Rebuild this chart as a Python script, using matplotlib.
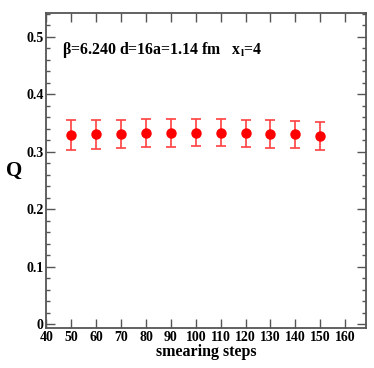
import matplotlib
matplotlib.use("Agg")
import matplotlib.pyplot as plt
from matplotlib.ticker import MultipleLocator

# smearing steps and topological charge Q with errors
steps = [50, 60, 70, 80, 90, 100, 110, 120, 130, 140, 150]
q_vals = [0.329, 0.330, 0.331, 0.332, 0.3325, 0.333, 0.333, 0.332, 0.331, 0.330, 0.328]
q_errs = [0.026, 0.025, 0.0247, 0.0243, 0.0238, 0.0237, 0.0238, 0.0235, 0.0238, 0.024, 0.0243]

x_ticks = list(range(40, 161, 10))
y_ticks = [0, 0.1, 0.2, 0.3, 0.4, 0.5]
y_tick_labels = ["0", "0.1", "0.2", "0.3", "0.4", "0.5"]

plt.rcParams["font.family"] = ["Liberation Serif", "DejaVu Serif"]
plt.rcParams["font.weight"] = "bold"
plt.rcParams["mathtext.fontset"] = "custom"
plt.rcParams["mathtext.rm"] = "Liberation Serif:bold"
plt.rcParams["mathtext.it"] = "Liberation Serif:bold"
plt.rcParams["mathtext.bf"] = "Liberation Serif:bold"

fig = plt.figure(figsize=(3.74, 3.68), dpi=100)
ax = fig.add_axes([0.1243, 0.1087, 0.9778 - 0.1243, 0.9647 - 0.1087])

ax.errorbar(steps, q_vals, yerr=q_errs, fmt="o", color="red", ms=6.5,
			ecolor=(1, 0.25, 0.25), elinewidth=1.2, capsize=3.3, capthick=1.2)

ax.set_xlim(40, 168.3)
ax.set_ylim(-0.0065, 0.541)

ax.set_xticks(x_ticks)
ax.set_xticklabels([str(t) for t in x_ticks])
ax.set_yticks(y_ticks)
ax.set_yticklabels(y_tick_labels)
ax.yaxis.set_minor_locator(MultipleLocator(0.02))

for s in ax.spines.values():
	s.set_color("#555555")
	s.set_linewidth(1.3)
ax.tick_params(which="both", direction="in", top=True, right=True, color="#555555", width=1.0)
ax.tick_params(which="major", length=6.5, labelsize=10, pad=2)
ax.tick_params(which="minor", length=3)
for lab in ax.get_xticklabels() + ax.get_yticklabels():
	lab.set_fontweight("bold")

ax.set_xlabel("smearing steps", fontsize=11.5, fontweight="bold", labelpad=0)
ax.set_ylabel("Q", fontsize=15, fontweight="bold", rotation=0, labelpad=9, va="center")

ax.text(0.05, 0.883, "\u03b2=6.240 d=16a=1.14 fm   x$_\\mathrm{l}$=4",
		transform=ax.transAxes, fontsize=11.4, fontweight="bold", va="center")

fig.savefig("out.png", dpi=100)
